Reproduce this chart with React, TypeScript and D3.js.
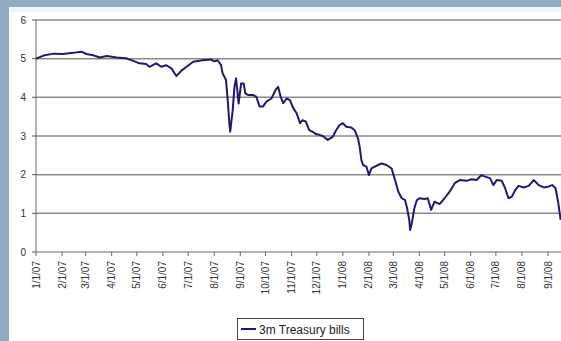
import React from "react";
import * as d3 from "d3";

const dates: string[] = [
  "2007-01-01","2007-01-10","2007-01-22","2007-02-02","2007-02-14","2007-02-24","2007-03-02","2007-03-10","2007-03-18","2007-03-26",
  "2007-04-07","2007-04-18","2007-04-26","2007-05-04","2007-05-12","2007-05-16","2007-05-24","2007-05-30","2007-06-05","2007-06-11",
  "2007-06-17","2007-06-23","2007-06-29","2007-07-07","2007-07-18","2007-07-28","2007-08-01","2007-08-05","2007-08-09","2007-08-11",
  "2007-08-15","2007-08-17","2007-08-19","2007-08-20","2007-08-23","2007-08-25","2007-08-27","2007-08-30","2007-09-02","2007-09-05",
  "2007-09-07","2007-09-10","2007-09-16","2007-09-20","2007-09-24","2007-09-28","2007-10-02","2007-10-08","2007-10-13","2007-10-16",
  "2007-10-19","2007-10-22","2007-10-26","2007-10-30","2007-11-03","2007-11-07","2007-11-11","2007-11-14","2007-11-18","2007-11-22",
  "2007-11-26","2007-11-30","2007-12-04","2007-12-08","2007-12-14","2007-12-20","2007-12-24","2007-12-28","2008-01-01","2008-01-05",
  "2008-01-11","2008-01-15","2008-01-19","2008-01-21","2008-01-23","2008-01-25","2008-01-29","2008-02-01","2008-02-04","2008-02-08",
  "2008-02-12","2008-02-16","2008-02-22","2008-02-28","2008-03-03","2008-03-07","2008-03-11","2008-03-15","2008-03-17","2008-03-20",
  "2008-03-21","2008-03-23","2008-03-26","2008-03-29","2008-04-01","2008-04-07","2008-04-11","2008-04-15","2008-04-19","2008-04-25",
  "2008-05-01","2008-05-07","2008-05-13","2008-05-19","2008-05-27","2008-06-02","2008-06-08","2008-06-14","2008-06-18","2008-06-24",
  "2008-06-28","2008-07-02","2008-07-08","2008-07-12","2008-07-16","2008-07-20","2008-07-24","2008-07-28","2008-08-03","2008-08-09",
  "2008-08-15","2008-08-21","2008-08-27","2008-09-01","2008-09-06","2008-09-10","2008-09-13","2008-09-16"
];

const rates: number[] = [
  5.00,5.08,5.13,5.12,5.15,5.18,5.12,5.09,5.03,5.07,
  5.03,5.01,4.95,4.88,4.86,4.79,4.88,4.79,4.83,4.75,
  4.55,4.69,4.79,4.92,4.96,4.98,4.93,4.96,4.84,4.62,
  4.45,3.93,3.33,3.11,3.67,4.27,4.49,3.84,4.36,4.36,
  4.10,4.06,4.06,4.02,3.76,3.76,3.89,3.97,4.19,4.27,
  4.02,3.85,3.97,3.93,3.72,3.59,3.33,3.41,3.37,3.15,
  3.11,3.05,3.03,3.00,2.90,2.98,3.15,3.28,3.33,3.24,
  3.22,3.15,2.94,2.72,2.38,2.25,2.21,1.99,2.16,2.21,
  2.25,2.29,2.25,2.16,1.86,1.56,1.39,1.34,1.17,0.83,
  0.57,0.74,1.13,1.34,1.39,1.37,1.39,1.09,1.30,1.24,
  1.39,1.56,1.78,1.86,1.84,1.88,1.86,1.99,1.95,1.91,
  1.73,1.86,1.84,1.65,1.39,1.43,1.60,1.71,1.67,1.71,
  1.86,1.73,1.67,1.69,1.73,1.65,1.30,0.83
];

const tickDates: string[] = [
  "2007-01-01","2007-02-01","2007-03-01","2007-04-01","2007-05-01","2007-06-01","2007-07-01",
  "2007-08-01","2007-09-01","2007-10-01","2007-11-01","2007-12-01","2008-01-01","2008-02-01",
  "2008-03-01","2008-04-01","2008-05-01","2008-06-01","2008-07-01","2008-08-01","2008-09-01"
];
const yTicks: number[] = [0, 1, 2, 3, 4, 5, 6];
const seriesName = "3m Treasury bills";

const W = 561;
const H = 341;
const parse = d3.utcParse("%Y-%m-%d");
const fmt = d3.utcFormat("%-m/%-d/%y");

export default function App() {
  const x = d3
    .scaleUtc()
    .domain([parse("2007-01-01")!, parse("2008-09-01")!])
    .range([36, 548]);
  const y = d3.scaleLinear().domain([0, 6]).range([252, 20]);
  const data = dates.map((d, i) => ({ d: parse(d)!, v: rates[i] }));
  const line = d3
    .line<{ d: Date; v: number }>()
    .x((p) => x(p.d))
    .y((p) => y(p.v));
  const font = "Arial, 'Liberation Sans', sans-serif";

  return (
    <svg
      width={W}
      height={H}
      style={{ position: "absolute", left: 0, top: 0, display: "block" }}
    >
      <rect x={0} y={0} width={W} height={H} fill="#93abc3" />
      <rect x={9} y={7} width={W - 9} height={H - 7} fill="#ffffff" />
      <rect x={9} y={7} width={W - 9} height={5} fill="#f4f4f4" />
      {yTicks.map((t) => (
        <g key={t}>
          {t > 0 && (
            <line x1={36} x2={W} y1={y(t)} y2={y(t)} stroke="#8a8a8a" strokeWidth={1.5} />
          )}
          <line x1={32} x2={36} y1={y(t)} y2={y(t)} stroke="#555" strokeWidth={1} />
          <text
            x={26}
            y={y(t)}
            dy="0.35em"
            textAnchor="end"
            fontFamily={font}
            fontSize={10}
            fill="#333"
          >
            {t}
          </text>
        </g>
      ))}
      <line x1={36} x2={36} y1={20} y2={252} stroke="#666" strokeWidth={1} />
      <line x1={36} x2={W} y1={252} y2={252} stroke="#666" strokeWidth={1} />
      {tickDates.map((s) => {
        const px = x(parse(s)!);
        return (
          <g key={s}>
            <line x1={px} x2={px} y1={252} y2={256} stroke="#666" strokeWidth={1} />
            <text
              transform={`translate(${px + 3.5},261) rotate(-90)`}
              textAnchor="end"
              fontFamily={font}
              fontSize={10}
              fill="#333"
            >
              {fmt(parse(s)!)}
            </text>
          </g>
        );
      })}
      <path
        d={line(data) || ""}
        fill="none"
        stroke="#1b1b6f"
        strokeWidth={2}
        strokeLinejoin="round"
      />
      <rect x={237.5} y={318.5} width={126} height={21} fill="#fff" stroke="#444" strokeWidth={1} />
      <line x1={241} x2={256} y1={329} y2={329} stroke="#1b1b6f" strokeWidth={2} />
      <text x={259} y={333.5} fontFamily={font} fontSize={12} fill="#222">
        {seriesName}
      </text>
    </svg>
  );
}
